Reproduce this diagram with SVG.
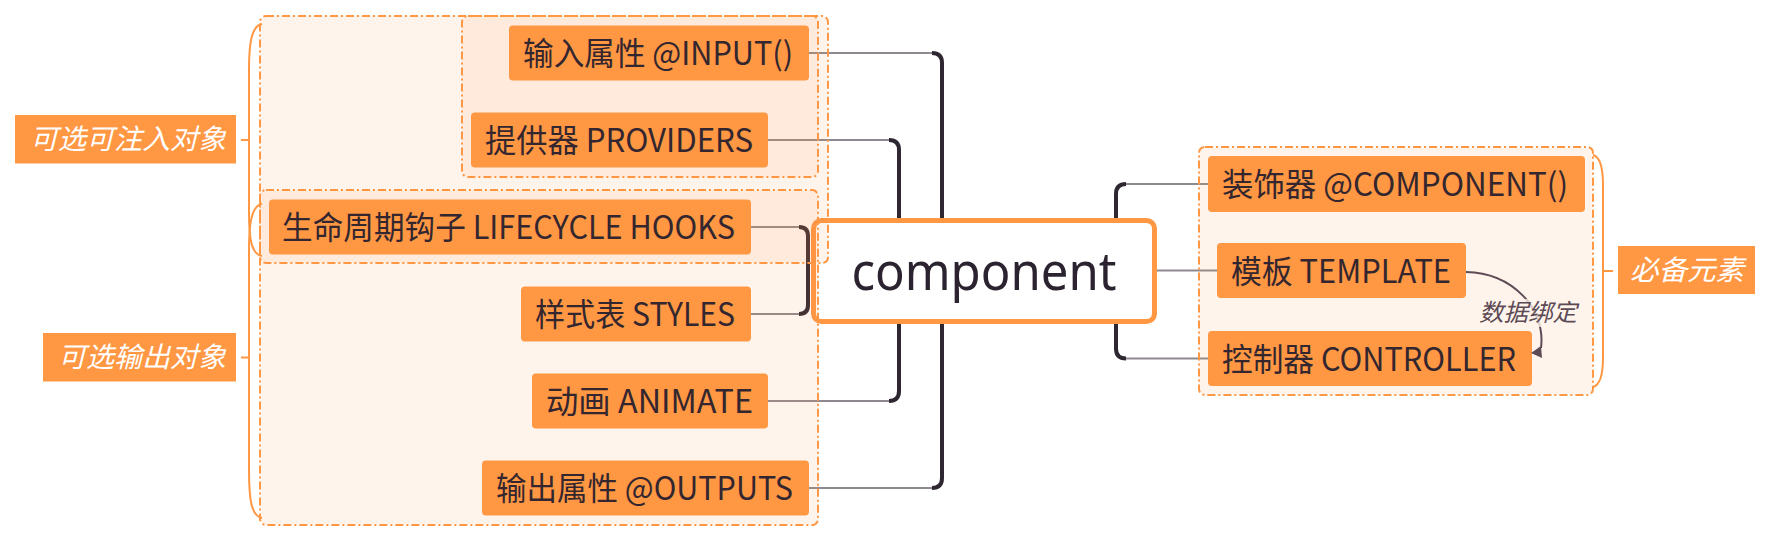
<svg xmlns="http://www.w3.org/2000/svg" width="1771" height="542" viewBox="0 0 1771 542">
<style>
.bg{fill:#ffffff}
.zone{fill:#FF9743;fill-opacity:0.1;stroke:#FF9743;stroke-width:2;stroke-dasharray:8 3 2 3}
.node{fill:#FF9743}
.lab{fill:#FF9743}
.nt{font-family:"Noto Sans CJK SC","Noto Sans",sans-serif;font-size:32px;fill:#33262F}
.lt{font-family:"Noto Sans CJK SC","Noto Sans",sans-serif;font-size:28px;font-style:italic;fill:#ffffff}
.thin{fill:none;stroke:#8E8990;stroke-width:2}
.thick{fill:none;stroke:#2E2731;stroke-width:4}
.brace{fill:none;stroke:#FF9743;stroke-width:2}
</style>
<rect class="bg" x="0" y="0" width="1771" height="542"/>

<g id="connectors">
<path class="thin" d="M809,53 H933 M809,488 H933 M768,140 H890 M768,401 H890 M751,227 H800 M751,314 H800 M1125,184 H1208 M1125,358.5 H1208 M1157,270.5 H1217"/>
<path class="thick" d="M932,53 Q942,53 942,63 V478 Q942,488 932,488"/>
<path class="thick" d="M889,140 Q899,140 899,150 V391 Q899,401 889,401"/>
<path class="thick" d="M799,227 Q808,227 808,236 V305 Q808,314 799,314"/>
<path class="thick" d="M1126,184 Q1116,184 1116,194 V348.5 Q1116,358.5 1126,358.5"/>
</g>

<g id="component">
<rect x="813.5" y="220.5" width="341" height="101" rx="8" fill="#ffffff" stroke="#FF9743" stroke-width="5"/>
<text x="984" y="290" text-anchor="middle" font-family="'Noto Sans','Open Sans',sans-serif" font-size="52" fill="#2B2430" textLength="265" lengthAdjust="spacingAndGlyphs">component</text>
</g>

<g id="boundaries">
<rect class="zone" x="260" y="16" width="568" height="247" rx="6"/>
<rect class="zone" x="260" y="190" width="558" height="335" rx="6"/>
<rect class="zone" x="462" y="16" width="356" height="161" rx="6"/>
<rect class="zone" x="1199" y="147" width="394" height="248" rx="6"/>
</g>

<g id="braces">
<path class="brace" d="M262,24 C251,26 249,45 249,70 L249,212 C249,238 251,254 262,256 M241,140 H249"/>
<path class="brace" d="M262,204 C251,206 249,225 249,250 L249,470 C249,498 251,516 262,518 M241,357.5 H249"/>
<path class="brace" d="M1593,155 C1601,157 1603,170 1603,185 L1603,357 C1603,372 1601,385 1593,387 M1603,271 H1613"/>
</g>

<g id="n-input"><rect class="node" x="509" y="25.5" width="300" height="55" rx="4"/><text class="nt" x="523" y="65" textLength="270" lengthAdjust="spacingAndGlyphs">输入属性 @INPUT()</text></g>
<g id="n-providers"><rect class="node" x="471" y="112.5" width="297" height="55" rx="4"/><text class="nt" x="485" y="152" textLength="268" lengthAdjust="spacingAndGlyphs">提供器 PROVIDERS</text></g>
<g id="n-lifecycle"><rect class="node" x="269" y="199.5" width="482" height="55" rx="4"/><text class="nt" x="282" y="239" textLength="453" lengthAdjust="spacingAndGlyphs">生命周期钩子 LIFECYCLE HOOKS</text></g>
<g id="n-styles"><rect class="node" x="521" y="286.5" width="230" height="55" rx="4"/><text class="nt" x="535" y="326" textLength="200" lengthAdjust="spacingAndGlyphs">样式表 STYLES</text></g>
<g id="n-animate"><rect class="node" x="532" y="373.5" width="236" height="55" rx="4"/><text class="nt" x="546" y="413" textLength="207" lengthAdjust="spacingAndGlyphs">动画 ANIMATE</text></g>
<g id="n-outputs"><rect class="node" x="482" y="460.5" width="327" height="55" rx="4"/><text class="nt" x="496" y="500" textLength="297" lengthAdjust="spacingAndGlyphs">输出属性 @OUTPUTS</text></g>

<g id="n-decorator"><rect class="node" x="1208" y="156" width="377" height="56" rx="4"/><text class="nt" x="1222" y="196" textLength="346" lengthAdjust="spacingAndGlyphs">装饰器 @COMPONENT()</text></g>
<g id="n-template"><rect class="node" x="1217" y="243" width="249" height="55" rx="4"/><text class="nt" x="1231" y="282.5" textLength="220" lengthAdjust="spacingAndGlyphs">模板 TEMPLATE</text></g>
<g id="n-controller"><rect class="node" x="1208" y="331" width="324" height="55" rx="4"/><text class="nt" x="1222" y="370.5" textLength="294" lengthAdjust="spacingAndGlyphs">控制器 CONTROLLER</text></g>

<g id="l-inject"><rect class="lab" x="15" y="115" width="221" height="48.5"/><text class="lt" x="30" y="149" textLength="196" lengthAdjust="spacingAndGlyphs">可选可注入对象</text></g>
<g id="l-output"><rect class="lab" x="43" y="333" width="193" height="48.5"/><text class="lt" x="58" y="367" textLength="168" lengthAdjust="spacingAndGlyphs">可选输出对象</text></g>
<g id="l-required"><rect class="lab" x="1618" y="246" width="137" height="48"/><text class="lt" x="1630" y="280" textLength="114" lengthAdjust="spacingAndGlyphs">必备元素</text></g>

<g id="binding">
<path d="M1466,272 C1512,273 1546,308 1541,348" fill="none" stroke="#5E4B55" stroke-width="2"/>
<polygon points="1531,353 1541,346 1542,358" fill="#5E4B55"/>
<rect x="1478" y="299" width="100" height="28" fill="#FFF4EC" fill-opacity="0.75"/>
<text x="1528" y="321" text-anchor="middle" font-family="'Noto Sans CJK SC',sans-serif" font-size="24" font-style="italic" fill="#5C4A55" textLength="98" lengthAdjust="spacingAndGlyphs">数据绑定</text>
</g>
</svg>
